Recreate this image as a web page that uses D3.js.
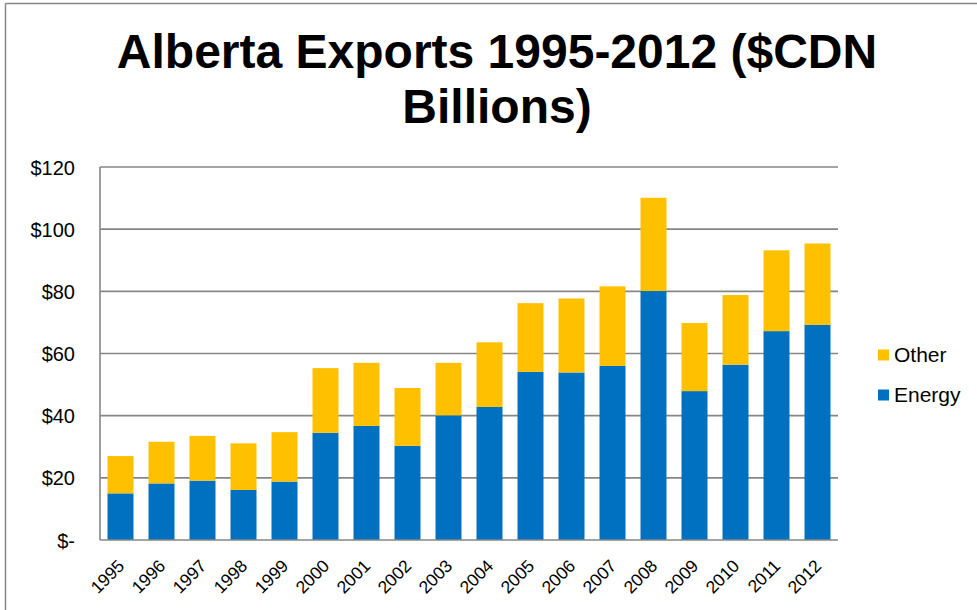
<!DOCTYPE html>
<html><head><meta charset="utf-8">
<script src="https://cdn.jsdelivr.net/npm/d3@7"></script>
<style>body{margin:0;background:#fff}svg{display:block}</style>
</head><body>
<svg id="c" width="977" height="610"></svg>
<script>
const years = ["1995","1996","1997","1998","1999","2000","2001","2002","2003","2004","2005","2006","2007","2008","2009","2010","2011","2012"];
const energy = [15.0,18.2,19.1,16.1,18.8,34.5,36.7,30.3,40.1,42.8,54.1,53.9,56.0,80.1,47.9,56.4,67.2,69.2];
const other  = [12.0,13.4,14.4,15.0,15.9,20.8,20.3,18.6,16.9,20.8,22.1,23.8,25.6,30.0,21.9,22.4,26.0,26.2];
const yTicks = [0,20,40,60,80,100,120];
const yTickLabels = ["$-","$20","$40","$60","$80","$100","$120"];
const seriesNames = ["Energy","Other"];
const colors = {Energy:"#0070C0", Other:"#FFC000"};

const svg = d3.select("#c");
const font = "'Liberation Sans', Arial, sans-serif";
const grey = "#868686";

// outer border
svg.append("line").attr("x1",5.5).attr("x2",5.5).attr("y1",3.5).attr("y2",610).attr("stroke",grey).attr("stroke-width",1.5);
svg.append("line").attr("x1",5.5).attr("x2",977).attr("y1",3.5).attr("y2",3.5).attr("stroke",grey).attr("stroke-width",1.5);

// title
const title = svg.append("text").attr("text-anchor","middle").attr("font-family",font)
  .attr("font-weight","bold").attr("font-size",48).attr("fill","#000");
title.append("tspan").attr("x",497).attr("y",68).text("Alberta Exports 1995-2012 ($CDN");
title.append("tspan").attr("x",497).attr("y",123).text("Billions)");

const L=100, R=838, T=167, B=540;
const x = d3.scaleBand().domain(years).range([L,R]).paddingInner(0.366).paddingOuter(0.183);
const y = d3.scaleLinear().domain([0,120]).range([B,T]);

// gridlines
svg.append("g").selectAll("line").data(yTicks.filter(d=>d>0)).join("line")
  .attr("x1",L).attr("x2",R).attr("y1",d=>y(d)).attr("y2",d=>y(d))
  .attr("stroke",grey).attr("stroke-width",1.6);

// stacked data
const rows = years.map((yr,i)=>({year:yr, Energy:energy[i], Other:other[i]}));
const stack = d3.stack().keys(seriesNames)(rows);
svg.append("g").selectAll("g").data(stack).join("g").attr("fill",d=>colors[d.key])
  .selectAll("rect").data(d=>d).join("rect")
  .attr("x",d=>x(d.data.year)).attr("width",x.bandwidth())
  .attr("y",d=>y(d[1])).attr("height",d=>y(d[0])-y(d[1]));

// axes lines
svg.append("line").attr("x1",L).attr("x2",L).attr("y1",T).attr("y2",B).attr("stroke",grey).attr("stroke-width",1.6);
svg.append("line").attr("x1",L).attr("x2",R).attr("y1",B).attr("y2",B).attr("stroke",grey).attr("stroke-width",1.6);

// y labels
const yAxis = d3.axisLeft(y).tickValues(yTicks).tickFormat((d,i)=>yTickLabels[i]).tickSize(0).tickPadding(25);
const ya = svg.append("g").attr("transform",`translate(${L},0)`).call(yAxis);
ya.select(".domain").remove();
ya.selectAll("text").attr("font-family",font).attr("font-size",20).attr("fill","#000").attr("dy","0.35em");

// x labels
svg.append("g").selectAll("text").data(years).join("text")
  .attr("transform",d=>`translate(${x(d)+x.bandwidth()/2+5},567) rotate(-45)`)
  .attr("text-anchor","end").attr("font-family",font).attr("font-size",17.5).attr("fill","#000")
  .text(d=>d);

// legend
const leg = svg.append("g");
const legItems = ["Other","Energy"];
legItems.forEach((k,i)=>{
  const cy = 355 + i*40;
  leg.append("rect").attr("x",878).attr("y",cy-5.5).attr("width",11).attr("height",11).attr("fill",colors[k]);
  leg.append("text").attr("x",894).attr("y",cy).attr("dy","0.35em").attr("font-family",font)
    .attr("font-size",21).attr("fill","#000").text(k);
});
</script>
</body></html>
